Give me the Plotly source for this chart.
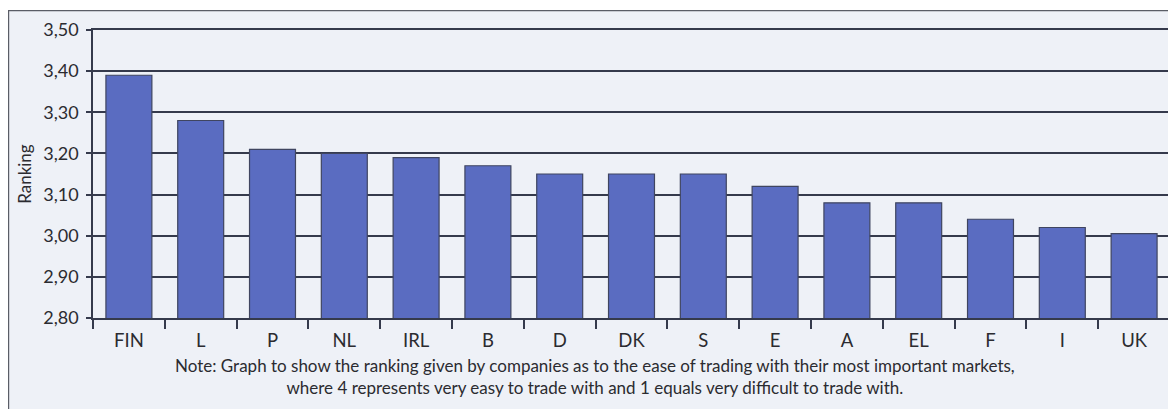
import plotly.graph_objects as go

countries = ["FIN", "L", "P", "NL", "IRL", "B", "D", "DK", "S", "E", "A", "EL", "F", "I", "UK"]
ranking = [3.39, 3.28, 3.21, 3.20, 3.19, 3.17, 3.15, 3.15, 3.15, 3.12, 3.08, 3.08, 3.04, 3.02, 3.005]
y_ticks = [2.80, 2.90, 3.00, 3.10, 3.20, 3.30, 3.40, 3.50]

note_text = ("Note: Graph to show the ranking given by companies as to the ease of trading with their most important markets,"
             "<br>where 4 represents very easy to trade with and 1 equals very difficult to trade with.")

FONT = "Lato, Open Sans, sans-serif"
DARK = "#353a4c"

# the page body has an 8px margin, so the figure is 8px smaller and offset
OFF = 8
W, H = 1176 - OFF, 409 - OFF
L, R, T = 93 - OFF, 6, 30 - OFF
B = H - (318.4 - OFF)
PW, PH = W - L - R, H - T - B


def px_x(px):
    return (px - OFF - L) / PW


def px_y(py):
    return (H - B - (py - OFF)) / PH


fig = go.Figure()
fig.add_trace(go.Bar(
    x=countries, y=ranking,
    marker=dict(color="#5a6cc1", line=dict(color="#3f4560", width=1.2)),
))

fig.update_layout(
    width=W, height=H,
    margin=dict(l=L, r=R, t=T, b=B, pad=0, autoexpand=False),
    paper_bgcolor="white",
    plot_bgcolor="#b8c2e9",
    separators=",.",
    bargap=0.36,
    showlegend=False,
    font=dict(family=FONT, size=18, color="#2b2b30"),
    xaxis=dict(
        showline=True, linecolor=DARK, linewidth=1.5, mirror=True, automargin=False,
        ticks="outside", tickson="boundaries", ticklen=9, tickcolor=DARK, tickwidth=1.5,
        showgrid=False, tickfont=dict(size=18.5), ticklabelstandoff=5,
    ),
    yaxis=dict(
        range=[2.80, 3.50], tickvals=y_ticks, tickformat=".2f", automargin=False,
        showline=True, linecolor=DARK, linewidth=1.5, mirror=True,
        ticks="outside", ticklen=5, tickcolor=DARK, tickwidth=1.5,
        showgrid=True, gridcolor=DARK, gridwidth=1.5,
        tickfont=dict(size=18), ticklabelstandoff=4,
    ),
    shapes=[dict(
        type="rect", xref="paper", yref="paper",
        x0=px_x(8.6), x1=px_x(1190),
        y0=px_y(430), y1=px_y(10.5),
        line=dict(color="#5a5d66", width=1.2), fillcolor="#eef1f7", layer="below",
    )],
    annotations=[
        dict(
            text=note_text, xref="paper", yref="paper",
            x=px_x(595), y=px_y(377),
            xanchor="center", yanchor="middle", showarrow=False,
            font=dict(size=17, color="#2b2b30"), align="center",
        ),
        dict(
            text="Ranking", xref="paper", yref="paper",
            x=px_x(25), y=px_y(174), textangle=-90,
            xanchor="center", yanchor="middle", showarrow=False,
            font=dict(size=17, color="#2b2b30"),
        ),
    ],
)

fig.write_html("out.html")
